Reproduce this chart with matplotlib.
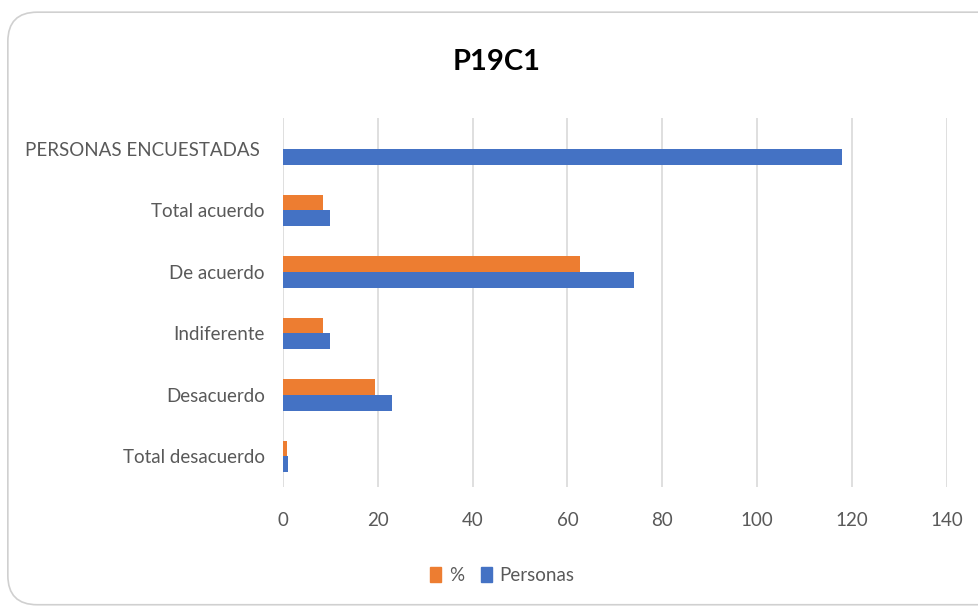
import numpy as np
import matplotlib.pyplot as plt
from matplotlib.patches import FancyBboxPatch, Patch

plt.rcParams['font.family'] = ['Lato', 'DejaVu Sans']

categories = ['PERSONAS ENCUESTADAS ', 'Total acuerdo', 'De acuerdo',
              'Indiferente', 'Desacuerdo', 'Total desacuerdo']
personas = [118, 10, 74, 10, 23, 1]
porcentaje = [0, 8.5, 62.7, 8.5, 19.5, 0.8]
xticks = [0, 20, 40, 60, 80, 100, 120, 140]

ORANGE = '#ED7D31'
BLUE = '#4472C4'
GRAY = '#595959'

fig = plt.figure(figsize=(9.79, 6.09), dpi=100)

# card background with rounded border
card = FancyBboxPatch((0.008, 0.007), 1.05, 0.973, transform=fig.transFigure,
                      boxstyle='round,pad=0,rounding_size=0.03',
                      facecolor='white', edgecolor='#D0D0D0', linewidth=1.2,
                      mutation_aspect=979 / 609, zorder=-10)
fig.patches.append(card)

ax = fig.add_axes([0.289, 0.200, 0.678, 0.606])
ax.set_facecolor('none')
ax.set_zorder(5)

y = np.arange(len(categories))
h = 0.255
ax.barh(y - h / 2, porcentaje, height=h, color=ORANGE, label='%', zorder=3)
ax.barh(y + h / 2, personas, height=h, color=BLUE, label='Personas', zorder=3)

ax.set_ylim(len(categories) - 0.5, -0.5)
ax.set_xlim(0, 140)
ax.set_xticks(xticks)
ax.set_yticks(y)
ax.set_yticklabels(categories)
ax.tick_params(axis='both', length=0, labelsize=13.5, colors=GRAY)
ax.tick_params(axis='y', pad=13)
ax.tick_params(axis='x', pad=18)
ax.grid(axis='x', color='#D9D9D9', linewidth=1.2, zorder=0)
for s in ax.spines.values():
    s.set_visible(False)

fig.text(0.507, 0.898, 'P19C1', ha='center', va='center', fontsize=21,
         fontweight='bold', color='black')

handles = [Patch(color=ORANGE, label='%'), Patch(color=BLUE, label='Personas')]
fig.legend(handles=handles, loc='center', bbox_to_anchor=(0.513, 0.055), ncol=2,
           frameon=False, fontsize=13.5, handlelength=0.6, handleheight=0.9,
           handletextpad=0.4, columnspacing=0.9, labelcolor=GRAY)

plt.savefig('out.png', dpi=100)
